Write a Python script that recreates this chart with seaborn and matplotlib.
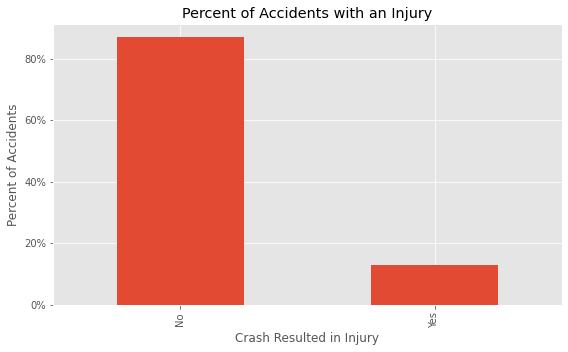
import matplotlib
matplotlib.use("Agg")
import matplotlib.pyplot as plt
import seaborn as sns
import pandas as pd
from matplotlib.ticker import PercentFormatter

categories = ["No", "Yes"]
percent_values = [0.87, 0.13]

plt.style.use("ggplot")
df = pd.DataFrame({"injury": categories, "pct": percent_values})

fig, ax = plt.subplots(figsize=(568/72, 352/72), dpi=72)
fig.subplots_adjust(left=0.0933, right=0.989, top=0.932, bottom=0.1335)

sns.barplot(data=df, x="injury", y="pct", color="#E24A33", saturation=1, width=0.5, ax=ax)
ax.set_xlim(-0.5, 1.5)
ax.set_ylim(0, max(percent_values) * 1.05)
ax.yaxis.set_major_formatter(PercentFormatter(1.0, decimals=0))
ax.grid(True, color="white")
ax.set_axisbelow(True)
plt.setp(ax.get_xticklabels(), rotation=90)
ax.set_title("Percent of Accidents with an Injury")
ax.set_xlabel("Crash Resulted in Injury")
ax.set_ylabel("Percent of Accidents")

fig.savefig("out.png", dpi=72)
